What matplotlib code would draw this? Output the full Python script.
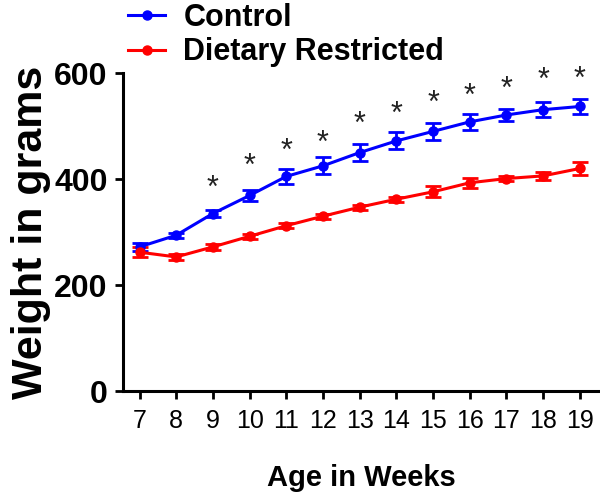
import matplotlib
matplotlib.use("Agg")
import matplotlib.pyplot as plt
from matplotlib.lines import Line2D

plt.rcParams["font.family"] = ["Liberation Sans", "DejaVu Sans"]

weeks = [7, 8, 9, 10, 11, 12, 13, 14, 15, 16, 17, 18, 19]
control_mean = [272, 294, 335, 369, 405, 425, 450, 472, 490, 508, 521, 531, 537]
control_err = [8, 5, 6, 10, 14, 16, 16, 16, 16, 15, 12, 14, 15]
restricted_mean = [262, 253, 272, 292, 312, 330, 347, 362, 376, 393, 401, 406, 420]
restricted_err = [10, 5, 5, 5, 5, 5, 5, 5, 10, 9, 5, 8, 13]
star_weeks = [9, 10, 11, 12, 13, 14, 15, 16, 17, 18, 19]
star_y = [400, 442, 471, 486, 522, 540, 561, 575, 588, 604, 607]

BLUE = "#0000ff"
RED = "#ff0000"

fig = plt.figure(figsize=(6.0, 4.94), dpi=100)
ax = fig.add_axes([0.205, 0.2085, 0.795, 0.6435])

ax.errorbar(weeks, control_mean, yerr=control_err, color=BLUE, lw=2.2,
            marker="o", ms=6.5, capsize=6, elinewidth=2, capthick=2,
            clip_on=False, zorder=3)
ax.errorbar(weeks, restricted_mean, yerr=restricted_err, color=RED, lw=2.2,
            marker="o", ms=6.5, capsize=6, elinewidth=2, capthick=2,
            clip_on=False, zorder=3)

# significance stars, glyph centred on the value
for wk, sy in zip(star_weeks, star_y):
    ax.annotate("*", (wk, sy), xytext=(0, -13), textcoords="offset points",
                ha="center", va="baseline", fontsize=22, color="#222222",
                annotation_clip=False)

ax.set_xlim(6.55, 19.55)
ax.set_ylim(0, 600)
ax.set_xticks(weeks)
ax.set_yticks([0, 200, 400, 600])

for side in ["top", "right"]:
    ax.spines[side].set_visible(False)
for side in ["left", "bottom"]:
    ax.spines[side].set_linewidth(2.2)

ax.tick_params(axis="both", direction="out", length=6, width=2)
ax.tick_params(axis="y", labelsize=23, pad=5)
ax.tick_params(axis="x", labelsize=18, pad=7)
for lbl in ax.get_yticklabels():
    lbl.set_fontweight("bold")

ax.set_ylabel("Weight in grams", fontsize=31, fontweight="bold", labelpad=2)
ax.set_xlabel("Age in Weeks", fontsize=21, fontweight="bold", labelpad=22)

handles = [
    Line2D([], [], color=BLUE, lw=2.2, marker="o", ms=6.5),
    Line2D([], [], color=RED, lw=2.2, marker="o", ms=6.5),
]
fig.legend(handles, ["Control", "Dietary Restricted"], loc="upper left",
           bbox_to_anchor=(0.168, 1.05), frameon=False,
           handlelength=1.2, handletextpad=0.6, labelspacing=0.15,
           prop={"size": 22, "weight": "bold"})

fig.savefig("out.png", dpi=100)
